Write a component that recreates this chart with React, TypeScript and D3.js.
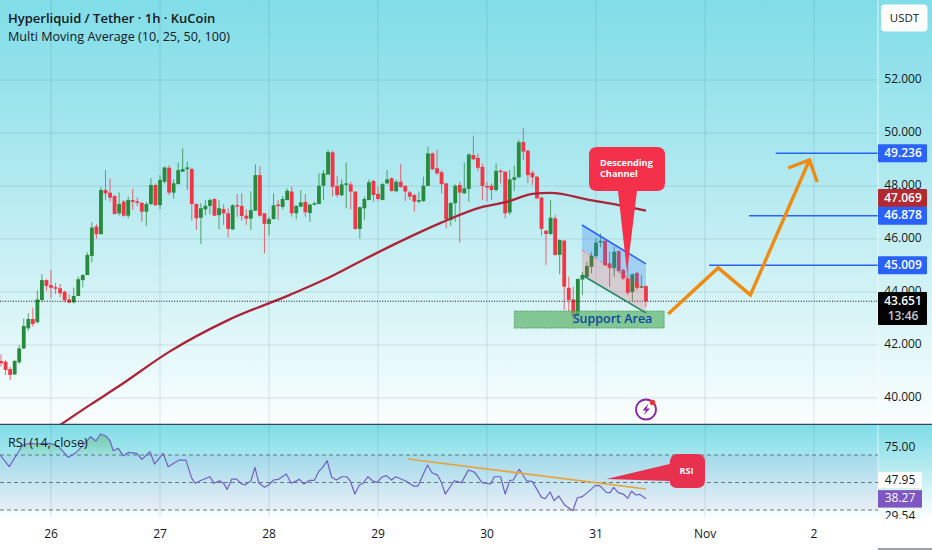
import React from "react";
import * as d3 from "d3";

const W = 932, H = 550;
const FONT = "'Open Sans','Noto Sans',sans-serif";

const firstBar = -11;
const opens = [
  41.40,41.37,41.09,40.89,41.35,41.87,42.63,42.98,42.86,43.70,44.45,
  44.26,44.18,44.14,44.01,43.72,43.61,43.85,44.45,44.64,45.36,
  46.47,46.18,47.85,47.75,47.62,46.97,47.41,46.88,47.47,47.42,
  47.36,47.03,47.32,48.04,47.28,48.16,48.69,47.75,48.07,48.54,
  48.64,48.64,47.32,46.80,47.12,47.25,47.51,46.90,47.13,46.97,
  46.36,47.28,47.25,46.88,46.77,47.07,48.41,46.97,46.57,46.75,
  47.30,47.21,47.47,47.79,46.97,47.22,47.40,46.98,47.30,47.32,
  48.01,48.43,49.27,48.00,47.65,48.05,48.06,47.79,46.38,47.16,
  47.47,48.19,47.70,47.47,48.10,48.29,47.80,48.16,48.00,47.76,
  47.66,47.41,47.43,48.00,49.23,48.67,48.52,48.10,46.72,47.35,
  48.04,47.72,47.89,49.17,49.06,48.72,48.00,48.01,47.85,48.58,
  48.54,47.00,48.23,48.33,49.66,49.33,48.50,48.35,47.56,46.31,
  46.19,46.78,45.40,45.94,44.16,43.72,43.11,44.47,44.57,44.95,
  45.35,45.87,45.93,45.08,44.91,45.54,44.83,44.51,44.00,44.72,44.16,44.22,
];
const closes = [
  41.31,41.06,40.87,41.40,41.87,42.72,42.98,42.79,43.72,44.45,44.23,
  44.16,44.14,43.95,43.70,43.60,43.85,44.48,44.64,45.40,46.43,
  46.18,47.85,47.72,47.56,46.94,47.32,46.88,47.47,47.40,47.36,
  47.03,47.32,48.04,47.27,48.23,48.70,47.75,48.10,48.60,48.64,
  48.70,47.32,46.78,47.16,47.25,47.47,46.88,47.16,46.97,46.38,
  47.27,47.25,46.87,46.77,47.09,48.41,46.88,46.57,46.75,47.27,
  47.26,47.51,47.82,46.97,47.25,47.38,47.01,47.30,47.35,48.01,
  48.48,49.28,47.97,47.66,48.06,48.10,47.79,46.38,47.20,47.51,
  48.14,47.66,47.51,48.07,48.25,47.81,48.16,47.96,47.79,47.60,
  47.41,47.47,48.01,49.23,48.63,48.48,48.07,46.75,47.36,48.01,
  47.75,47.91,49.19,49.01,48.69,48.00,47.97,47.85,48.57,48.53,
  46.97,48.25,48.33,49.65,49.30,48.41,48.33,47.53,46.38,46.19,
  46.80,45.40,45.96,44.20,43.70,43.09,44.49,44.64,44.98,45.37,
  45.86,45.93,45.01,44.91,45.52,44.79,44.51,43.97,44.67,44.16,44.22,43.65,
];
const highs = [
  41.65,41.43,41.18,41.43,42.00,43.00,43.20,43.41,44.07,44.67,44.48,
  44.83,44.35,44.30,44.05,43.92,44.16,44.58,44.68,45.50,46.63,
  46.57,47.97,48.60,48.29,47.66,47.76,47.47,47.60,47.89,47.57,
  47.41,47.41,48.29,48.10,48.41,48.73,48.79,48.25,48.89,49.42,
  48.92,48.69,47.35,47.35,47.47,47.53,47.53,47.47,47.31,47.16,
  47.32,47.70,47.72,47.12,47.79,48.82,48.75,46.97,46.84,47.72,
  47.47,47.62,47.91,47.97,47.28,47.85,47.70,47.32,47.41,48.48,
  48.60,49.36,49.33,48.38,48.25,48.89,48.16,47.79,47.22,47.60,
  48.25,48.23,47.97,48.12,48.60,48.33,48.23,48.83,48.04,47.82,
  47.70,47.79,48.35,49.48,49.26,49.36,48.60,48.10,47.38,48.07,
  48.16,48.88,49.23,49.90,49.23,48.85,48.16,48.10,48.85,48.63,
  48.54,48.60,48.77,49.74,50.18,49.36,48.58,48.38,47.60,46.34,
  47.47,46.91,45.99,45.96,44.58,44.20,44.52,44.76,45.14,45.52,
  46.02,46.21,45.96,45.52,45.71,45.58,44.89,45.58,44.70,44.76,44.64,44.26,
];
const lows = [
  41.18,40.87,40.68,40.87,41.28,41.85,42.54,42.69,42.82,43.63,44.05,
  43.76,43.92,43.80,43.61,43.57,43.57,43.85,44.18,44.64,45.11,
  46.00,46.18,47.47,47.41,46.94,46.88,46.84,46.78,47.09,47.24,
  46.65,46.50,47.28,47.27,47.12,48.10,47.66,47.53,48.07,48.54,
  47.85,46.69,46.34,45.81,46.90,46.93,46.87,46.36,46.53,46.06,
  46.36,46.84,46.69,46.53,46.34,47.07,46.84,45.46,46.13,46.75,
  46.72,47.12,47.47,46.84,46.74,47.20,46.84,46.65,47.27,47.32,
  47.47,48.43,47.62,47.57,47.62,47.16,47.12,46.34,46.02,46.72,
  47.47,47.41,47.43,47.47,48.07,47.79,47.77,47.94,47.43,47.47,
  47.03,47.35,47.41,48.00,48.60,48.41,47.72,46.40,46.49,46.65,
  45.86,47.72,47.41,48.98,48.57,47.47,47.43,47.47,47.79,48.10,
  46.78,46.91,47.82,48.29,48.98,48.10,48.04,47.51,46.13,45.02,
  46.15,45.37,44.67,43.32,43.26,42.76,43.07,43.88,44.57,44.70,
  45.33,45.68,44.98,44.20,44.57,44.76,44.45,43.88,43.67,44.07,44.16,43.44,
];

const maBars = [2, 8.6, 15, 26, 39, 52.6, 60, 68.7, 79, 85.7, 95, 100.4, 106, 110, 118.7, 125, 131];
const maValues = [38.98, 39.74, 40.45, 41.74, 42.94, 43.89, 44.45, 45.21, 46.08, 46.60, 47.21, 47.40, 47.70, 47.74, 47.47, 47.28, 47.07];

const rsiBars = [
  -11.2,-9.2,-7.6,-6.2,-4.6,-3.2,-0.2,1.6,3.8,5.3,6.8,8.7,9.9,10.9,12.1,13,13.7,14.8,15.9,17,18.9,20,21.8,22.8,24.7,25.8,28.2,29.7,31,31.8,33.2,35,35.9,37.1,38,38.8,39.8,40.9,41.8,42.7,44,44.9,45.8,47,47.9,49,50.1,51.8,52.9,54.7,55.7,56.9,58,58.9,59.8,60.8,61.8,62.9,64,65.1,
  65.9,66.9,67.9,68.7,69.8,70.8,71.8,72.8,73.8,75,75.9,78.1,79.8,80.8,82.9,83.9,85.1,85.9,86.8,88.8,90.4,91.9,93.3,94.9,96.8,97.6,99,100,101,101.8,103.1,104.7,106,108,108.8,109.9,110.8,111.8,113.1,114.9,115.9,117,118.6,119.8,120.8,122.3,123.1,123.9,124.9,126,127,127.8,128.8,129.6,131,
];
const rsiValues = [
  70,61.5,70,77.3,78.5,78,78.5,76.5,68.3,71.2,76.1,83.3,80.2,85.3,83.8,80.4,73.1,74.8,69.5,71.9,71.2,66.8,72.4,63.4,71.2,61.5,66.3,66.3,53,49.4,51.8,54.2,49.4,51.3,49.4,45,52.5,52.5,49.4,48.2,51.1,61,49.4,46.5,48.2,51.8,52.3,56.2,49.4,52.3,48.9,51.6,51.6,57.9,61,65.9,53.8,51.8,54.2,54.2,
  51.1,41.6,48.2,49.4,54.2,51.3,50.1,53.8,55,51.8,54.2,51.1,47.4,47.4,62.7,57.1,55.4,50.6,41.6,51.3,49.9,59.1,57.4,49.9,48.9,54.2,54.2,41.6,51.3,51.8,59.6,51.3,50.6,39.2,38.2,43.1,36.8,40.2,33.6,29.5,38.9,39.7,44.1,47.7,47.7,42.8,42.6,46.5,42.6,41.6,38.5,43.6,40.9,41.4,38.2,
];

const priceTicks = [52, 50, 48, 46, 44, 42, 40];
const dayLabels = ["26", "27", "28", "29", "30", "31", "Nov", "2"];
const rsiBands = [70, 50, 30];
const targets = [
  { price: 49.236, fromBar: 159.6 },
  { price: 46.878, fromBar: 153.7 },
  { price: 45.009, fromBar: 144.9 },
];
const lastPrice = 43.651;
const maLast = 47.069;
const rsiLast = 38.27;

const arrowBars = [135.9, 146.9, 154, 167];
const arrowPrices = [43.17, 44.91, 43.89, 48.98];
const headBars = [162.3, 167, 168.7];
const headPrices = [48.68, 48.98, 48.15];
const channelBars = [116.9, 131];
const channelTop = [46.53, 45.06];
const channelMid = [45.58, 44.13];
const channelLow = [44.64, 43.21];
const supportBars = [102, 135];
const supportPrices = [43.28, 42.64];
const rsiTrendBars = [78.6, 131];
const rsiTrendValues = [67.1, 45.3];

const x = d3.scaleLinear().domain([0, 24]).range([51, 160]);
const y = d3.scaleLinear().domain([52, 40]).range([80, 398]);
const ry = d3.scaleLinear().domain([70, 30]).range([455, 510]);
const PANE_R = 878, MAIN_B = 424, RSI_T = 425, RSI_B = 517;

const lineP = d3.line<number[]>().x((d) => x(d[0])).y((d) => y(d[1]));
const lineR = d3.line<number[]>().x((d) => x(d[0])).y((d) => ry(d[1]));
const maLine = d3.line<number[]>().x((d) => x(d[0])).y((d) => y(d[1])).curve(d3.curveMonotoneX);
const zip = (a: number[], b: number[]) => a.map((v, i) => [v, b[i]]);
const GREEN = "#288a3c", RED = "#f23645";
const GRID = "rgba(40,80,100,0.14)";

function PriceBox({ yc, h = 18, fill, children }: any) {
  return (
    <g>
      <rect x={PANE_R} y={yc - h / 2} width={49} height={h} fill={fill} rx={1} />
      {children}
    </g>
  );
}
const boxText = (yc: number, t: string, fill = "#fff") => (
  <text x={903} y={yc + 0.5} textAnchor="middle" dominantBaseline="middle" fontSize={12} fontWeight={600} fill={fill}>{t}</text>
);

export default function App() {
  const topPts = zip(channelBars, channelTop);
  const midPts = zip(channelBars, channelMid);
  const lowPts = zip(channelBars, channelLow);
  const poly = (a: number[][], b: number[][]) =>
    [...a, ...[...b].reverse()].map((d) => `${x(d[0])},${y(d[1])}`).join(" ");
  const rsiPts = zip(rsiBars, rsiValues);
  const rsiArea = d3.area<number[]>().x((d) => x(d[0])).y0(ry(70)).y1((d) => ry(Math.max(d[1], 70)));
  const bw = 3.8;
  return (
    <svg width={W} height={H} viewBox={`0 0 ${W} ${H}`} fontFamily={FONT}
      style={{ position: "fixed", left: 0, top: 0, display: "block", background: "#fff" }}>
      <defs>
        <linearGradient id="bgMain" x1="0" y1="0" x2="0" y2="1">
          <stop offset="0" stopColor="#80dde8" />
          <stop offset="0.35" stopColor="#a8e7ee" />
          <stop offset="0.7" stopColor="#d4f3f6" />
          <stop offset="1" stopColor="#fbfefe" />
        </linearGradient>
        <linearGradient id="bgRsi" x1="0" y1="0" x2="0" y2="1">
          <stop offset="0" stopColor="#80dde8" />
          <stop offset="0.35" stopColor="#a8e7ee" />
          <stop offset="1" stopColor="#fbfefe" />
        </linearGradient>
        <linearGradient id="ob" x1="0" y1={ry(86)} x2="0" y2={ry(70)} gradientUnits="userSpaceOnUse">
          <stop offset="0" stopColor="#4caf50" stopOpacity="0.45" />
          <stop offset="1" stopColor="#4caf50" stopOpacity="0.08" />
        </linearGradient>
        <clipPath id="mainClip"><rect x={0} y={0} width={PANE_R} height={MAIN_B} /></clipPath>
        <clipPath id="rsiClip"><rect x={0} y={RSI_T} width={PANE_R} height={RSI_B - RSI_T} /></clipPath>
        <clipPath id="rsiAxisClip"><rect x={PANE_R} y={RSI_T} width={54} height={RSI_B - RSI_T + 2} /></clipPath>
      </defs>

      <rect x={0} y={0} width={W} height={MAIN_B} fill="url(#bgMain)" />
      <rect x={0} y={RSI_T} width={W} height={RSI_B - RSI_T} fill="url(#bgRsi)" />

      {/* grid */}
      {priceTicks.map((p) => (
        <line key={p} x1={0} x2={PANE_R} y1={y(p)} y2={y(p)} stroke={GRID} />
      ))}
      {dayLabels.map((d, i) => (
        <g key={d}>
          <line x1={x(i * 24)} x2={x(i * 24)} y1={0} y2={MAIN_B} stroke={GRID} />
          <line x1={x(i * 24)} x2={x(i * 24)} y1={RSI_T} y2={RSI_B} stroke={GRID} />
        </g>
      ))}

      {/* candles */}
      <g clipPath="url(#mainClip)">
        {opens.map((o, k) => {
          const c = closes[k];
          const cx = x(k + firstBar);
          const col = c >= o ? GREEN : RED;
          const top = y(Math.max(o, c));
          const h = Math.max(1.5, Math.abs(y(o) - y(c)));
          return (
            <g key={k}>
              <line x1={cx} x2={cx} y1={y(highs[k])} y2={y(lows[k])} stroke={col} strokeOpacity={0.75} strokeWidth={1} />
              <rect x={cx - bw / 2} y={top} width={bw} height={h} fill={col} />
            </g>
          );
        })}
        <path d={maLine(zip(maBars, maValues)) ?? ""} fill="none" stroke="#ac2437" strokeWidth={2.3} strokeLinejoin="round" />
        <line x1={0} x2={PANE_R} y1={y(lastPrice)} y2={y(lastPrice)} stroke="#111" strokeDasharray="1 1.6" strokeWidth={1} />

        {/* support */}
        <rect x={x(supportBars[0])} y={y(supportPrices[0])} width={x(supportBars[1]) - x(supportBars[0])}
          height={y(supportPrices[1]) - y(supportPrices[0])} fill="#5fb56c" fillOpacity={0.72} stroke="#3f9a55" strokeWidth={0.8} strokeDasharray="2 1" />

        {/* channel */}
        <polygon points={poly(topPts, midPts)} fill="#2f7df0" fillOpacity={0.28} />
        <polygon points={poly(midPts, lowPts)} fill="#f23645" fillOpacity={0.2} />
        <path d={lineP(topPts) ?? ""} stroke="#2962ff" strokeWidth={1.6} fill="none" />
        <path d={lineP(midPts) ?? ""} stroke="#f23645" strokeOpacity={0.5} strokeWidth={1} strokeDasharray="4 3" fill="none" />
        <path d={lineP(lowPts) ?? ""} stroke="#1f8a60" strokeWidth={1.6} fill="none" />
        <text x={612.5} y={319.5} textAnchor="middle" dominantBaseline="middle" fontSize={12.5} fontWeight={600} fill="#0d47a1">Support Area</text>

        {/* targets */}
        {targets.map((t) => (
          <line key={t.price} x1={x(t.fromBar)} x2={PANE_R} y1={y(t.price)} y2={y(t.price)} stroke="#2962ff" strokeWidth={1.4} />
        ))}
        {/* arrow */}
        <path d={lineP(zip(arrowBars, arrowPrices)) ?? ""} fill="none" stroke="#ef8a12" strokeWidth={3.4} strokeLinejoin="miter" />
        <path d={lineP(zip(headBars, headPrices)) ?? ""} fill="none" stroke="#ef8a12" strokeWidth={3.4} />

        {/* callout */}
        <path d="M597,147 H657 Q665,147 665,155 V183 Q665,191 657,191 H637 L627,272 L618,191 H597 Q589,191 589,183 V155 Q589,147 597,147 Z" fill="#f5304a" />
        <text fontSize={9.2} fontWeight={700} fill="#fff">
          <tspan x={600} y={165.5}>Descending</tspan>
          <tspan x={600} y={177}>Channel</tspan>
        </text>

        {/* zap */}
        <circle cx={646} cy={409.5} r={10} fill="#fff" fillOpacity={0.4} stroke="#8e24aa" strokeWidth={1.8} />
        <path d="M648.5,403.5 L642.5,410.5 H646 L643.5,415.5 L650,408.5 H646.5 Z" fill="#8e24aa" />
        <circle cx={652.5} cy={402.5} r={2.8} fill="#e53935" />
      </g>

      <text x={8} y={22.5} fontSize={13} fontWeight={600} fill="#131722">Hyperliquid / Tether · 1h · KuCoin</text>
      <text x={8} y={40.5} fontSize={12.6} fontWeight={500} fill="#131722">Multi Moving Average (10, 25, 50, 100)</text>

      {/* separators */}
      <line x1={PANE_R} x2={PANE_R} y1={0} y2={RSI_B} stroke="#fff" strokeOpacity={0.7} />
      <line x1={0} x2={W} y1={424.3} y2={424.3} stroke="#31495c" strokeWidth={1.2} />

      {/* RSI */}
      <g clipPath="url(#rsiClip)">
        <rect x={0} y={ry(70)} width={PANE_R} height={ry(30) - ry(70)} fill="#7e57c2" fillOpacity={0.08} />
        {rsiBands.map((b) => (
          <line key={b} x1={0} x2={PANE_R} y1={ry(b)} y2={ry(b)} stroke="#5a6a78" strokeWidth={0.9} strokeDasharray="4 3" />
        ))}
        <path d={rsiArea(rsiPts) ?? ""} fill="url(#ob)" />
        <path d={lineR(rsiPts) ?? ""} fill="none" stroke="#7160c4" strokeWidth={1.2} strokeLinejoin="round" />
        <path d={lineR(zip(rsiTrendBars, rsiTrendValues)) ?? ""} stroke="#e8a33a" strokeWidth={1.6} fill="none" />
        <path d="M606.5,479 L669.7,464 Q670,454 677,454 H697 Q705,454 705,462 V480 Q705,488 697,488 H677 Q670,488 669.7,481 Z" fill="#e8304f" />
        <text x={686.5} y={471.5} textAnchor="middle" dominantBaseline="middle" fontSize={9} fontWeight={700} fill="#fff">RSI</text>
      </g>
      <text x={8} y={447} fontSize={12.6} fontWeight={500} fill="#131722">RSI (14, close)</text>

      {/* axis */}
      <g fill="#131722">
        {priceTicks.map((p) => (
          <text key={p} x={903} y={y(p)} textAnchor="middle" dominantBaseline="middle" fontSize={12} fontWeight={500}>{p.toFixed(3)}</text>
        ))}
      </g>
      <rect x={881} y={4.5} width={46.5} height={27} rx={4} fill="#fff" />
      <text x={904.5} y={18.5} textAnchor="middle" dominantBaseline="middle" fontSize={11.5} fontWeight={500} fill="#131722">USDT</text>

      <PriceBox yc={y(49.236)} fill="#2962ff">{boxText(y(49.236), "49.236")}</PriceBox>
      <PriceBox yc={198} fill="#b22833">{boxText(198, maLast.toFixed(3))}</PriceBox>
      <PriceBox yc={y(46.878)} fill="#2962ff">{boxText(y(46.878), "46.878")}</PriceBox>
      <PriceBox yc={y(45.009)} fill="#2962ff">{boxText(y(45.009), "45.009")}</PriceBox>
      <rect x={PANE_R} y={292} width={49} height={33} fill="#000" rx={1} />
      {boxText(301, lastPrice.toFixed(3))}
      {boxText(316.5, "13:46", "#c8c8c8")}

      {/* RSI axis */}
      <g clipPath="url(#rsiAxisClip)" fontSize={12} fontWeight={500}>
        <text x={900} y={ry(75)} textAnchor="middle" dominantBaseline="middle" fill="#131722">75.00</text>
        <rect x={PANE_R} y={472} width={44} height={16} fill="#fff" />
        <text x={900} y={480.5} textAnchor="middle" dominantBaseline="middle" fill="#131722">47.95</text>
        <rect x={PANE_R} y={ry(rsiLast) - 8.5} width={44} height={17.5} fill="#7e57c2" />
        <text x={900} y={ry(rsiLast) + 0.5} textAnchor="middle" dominantBaseline="middle" fill="#fff">{rsiLast.toFixed(2)}</text>
        <text x={900} y={517} textAnchor="middle" dominantBaseline="middle" fill="#131722">29.54</text>
      </g>

      {/* time axis */}
      {dayLabels.map((d, i) => (
        <text key={d} x={x(i * 24)} y={535} textAnchor="middle" dominantBaseline="middle" fontSize={12} fontWeight={500} fill="#131722">{d}</text>
      ))}
      <line x1={PANE_R} x2={W} y1={549} y2={549} stroke="#31495c" strokeWidth={1} />
    </svg>
  );
}
